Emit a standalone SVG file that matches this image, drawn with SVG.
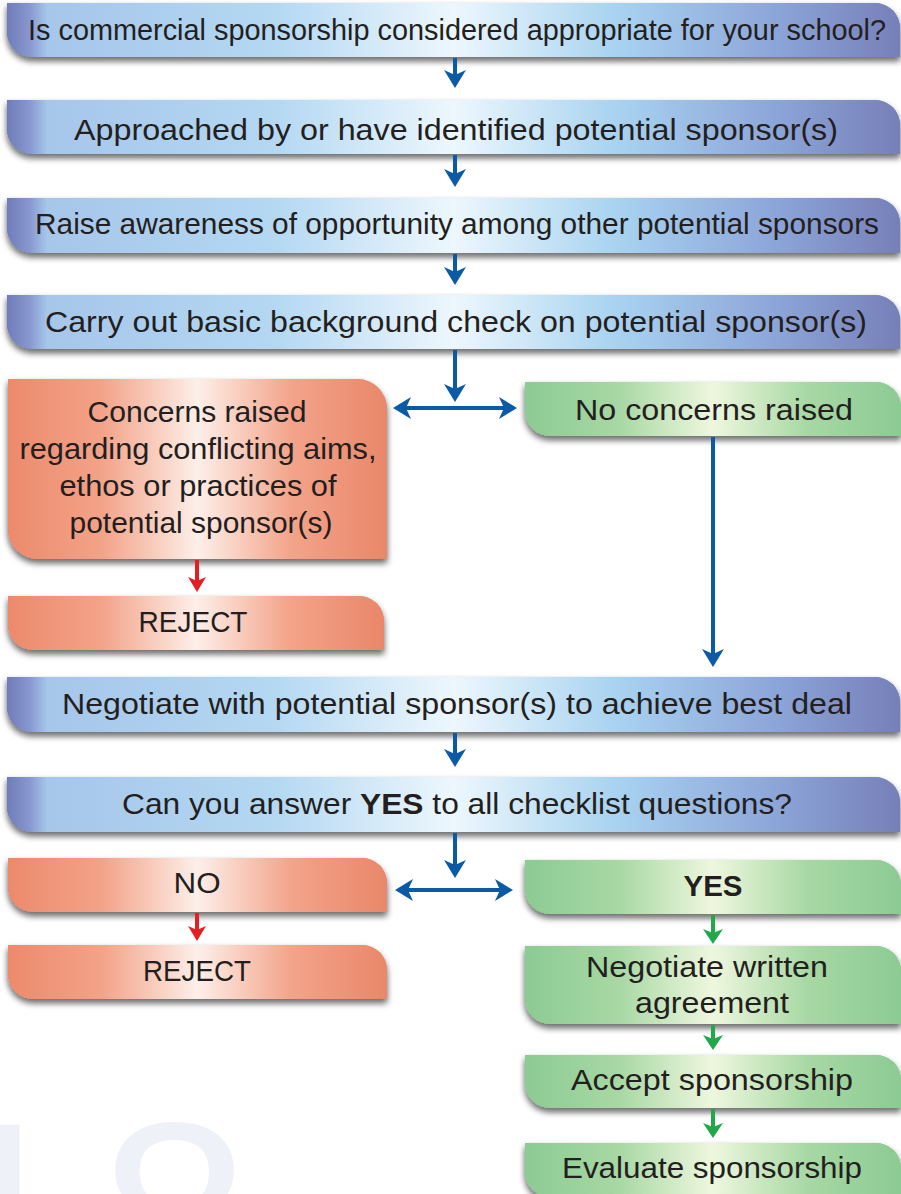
<svg xmlns="http://www.w3.org/2000/svg" xmlns:xlink="http://www.w3.org/1999/xlink" width="901" height="1194" viewBox="0 0 901 1194">
<defs>
<linearGradient id="gBlue" x1="0" y1="0" x2="1" y2="0">
<stop offset="0" stop-color="#6f7cb8"/>
<stop offset="0.025" stop-color="#8797cf"/>
<stop offset="0.045" stop-color="#a6c6ea"/>
<stop offset="0.3" stop-color="#b4d8f2"/>
<stop offset="0.5" stop-color="#edf7fd"/>
<stop offset="0.68" stop-color="#a9d3f0"/>
<stop offset="0.85" stop-color="#8ea8da"/>
<stop offset="1" stop-color="#7680b8"/>
</linearGradient>
<linearGradient id="gOrange" x1="0" y1="0" x2="1" y2="0">
<stop offset="0" stop-color="#ec8a6b"/>
<stop offset="0.25" stop-color="#f3a389"/>
<stop offset="0.5" stop-color="#fdefe9"/>
<stop offset="0.75" stop-color="#f3a389"/>
<stop offset="1" stop-color="#e9876a"/>
</linearGradient>
<linearGradient id="gGreen" x1="0" y1="0" x2="1" y2="0">
<stop offset="0" stop-color="#8ccb93"/>
<stop offset="0.25" stop-color="#a8d8a4"/>
<stop offset="0.5" stop-color="#eef7de"/>
<stop offset="0.75" stop-color="#a8d8a4"/>
<stop offset="1" stop-color="#8ccb93"/>
</linearGradient>
<linearGradient id="gShade" x1="0" y1="0" x2="0" y2="1">
<stop offset="0" stop-color="#ffffff" stop-opacity="0.35"/>
<stop offset="0.12" stop-color="#ffffff" stop-opacity="0"/>
<stop offset="0.85" stop-color="#000000" stop-opacity="0"/>
<stop offset="1" stop-color="#000000" stop-opacity="0.18"/>
</linearGradient>
<filter id="shadow" x="-5%" y="-20%" width="110%" height="160%">
<feDropShadow dx="0" dy="4" stdDeviation="3" flood-color="#000000" flood-opacity="0.35"/>
</filter>
<marker id="hBlue" markerUnits="userSpaceOnUse" markerWidth="20" markerHeight="22" viewBox="0 0 20 22" refX="8" refY="11" orient="auto-start-reverse">
<path d="M0,0 L18,11 L0,22 L5,11 Z" fill="#0b5aa6"/>
</marker>
<marker id="hRed" markerUnits="userSpaceOnUse" markerWidth="16" markerHeight="18" viewBox="0 0 16 18" refX="6" refY="9" orient="auto">
<path d="M0,0 L15,9 L0,18 L4,9 Z" fill="#e31e24"/>
</marker>
<marker id="hGreen" markerUnits="userSpaceOnUse" markerWidth="16" markerHeight="20" viewBox="0 0 16 20" refX="6" refY="10" orient="auto">
<path d="M0,0 L15,10 L0,20 L4,10 Z" fill="#22a84a"/>
</marker>
</defs>
<style>
text{font-family:"Liberation Sans","DejaVu Sans",sans-serif;font-size:30px;fill:#231f20;text-anchor:middle}
.blue{fill:url(#gBlue);filter:url(#shadow)}
.orange{fill:url(#gOrange);filter:url(#shadow)}
.green{fill:url(#gGreen);filter:url(#shadow)}
.shade{fill:url(#gShade)}
.cb{stroke:#0b5aa6;stroke-width:4;fill:none}
.cr{stroke:#e31e24;stroke-width:4;fill:none}
.cg{stroke:#22a84a;stroke-width:4;fill:none}
.wm{font-size:272px;fill:#eef1f8;text-anchor:start}
</style>
<rect width="901" height="1194" fill="#ffffff"/>
<text class="wm" x="-73 99" y="1312">18</text>

<g id="n1"><path id="p1" class="blue" d="M7,3 H875 A25,25 0 0 1 900,28 V57 H32 A25,25 0 0 1 7,32 Z"/><use href="#p1" class="shade"/>
<text x="457" y="40" textLength="858" lengthAdjust="spacingAndGlyphs">Is commercial sponsorship considered appropriate for your school?</text></g>
<g id="n2"><path id="p2" class="blue" d="M7,100 H875 A25,25 0 0 1 900,125 V154 H32 A25,25 0 0 1 7,129 Z"/><use href="#p2" class="shade"/>
<text x="456" y="140" textLength="764" lengthAdjust="spacingAndGlyphs">Approached by or have identified potential sponsor(s)</text></g>
<g id="n3"><path id="p3" class="blue" d="M7,198 H875 A25,25 0 0 1 900,223 V253 H32 A25,25 0 0 1 7,228 Z"/><use href="#p3" class="shade"/>
<text x="457" y="234" textLength="844" lengthAdjust="spacingAndGlyphs">Raise awareness of opportunity among other potential sponsors</text></g>
<g id="n4"><path id="p4" class="blue" d="M7,295 H875 A25,25 0 0 1 900,320 V349 H32 A25,25 0 0 1 7,324 Z"/><use href="#p4" class="shade"/>
<text x="456" y="332" textLength="822" lengthAdjust="spacingAndGlyphs">Carry out basic background check on potential sponsor(s)</text></g>
<g id="n5"><path id="p5" class="orange" d="M8,379 H357 A30,30 0 0 1 387,409 V559 H38 A30,30 0 0 1 8,529 Z"/><use href="#p5" class="shade"/>
<text x="197" y="422" textLength="219" lengthAdjust="spacingAndGlyphs">Concerns raised</text>
<text x="198" y="459" textLength="357" lengthAdjust="spacingAndGlyphs">regarding conflicting aims,</text>
<text x="198" y="496" textLength="277" lengthAdjust="spacingAndGlyphs">ethos or practices of</text>
<text x="201" y="533" textLength="263" lengthAdjust="spacingAndGlyphs">potential sponsor(s)</text></g>
<g id="n6"><path id="p6" class="green" d="M525,382 H876 A25,25 0 0 1 901,407 V436 H550 A25,25 0 0 1 525,411 Z"/><use href="#p6" class="shade"/>
<text x="714" y="420" textLength="278" lengthAdjust="spacingAndGlyphs">No concerns raised</text></g>
<g id="n7"><path id="p7" class="orange" d="M8,596 H359 A25,25 0 0 1 384,621 V650 H33 A25,25 0 0 1 8,625 Z"/><use href="#p7" class="shade"/>
<text x="193" y="632" textLength="109" lengthAdjust="spacingAndGlyphs">REJECT</text></g>
<g id="n8"><path id="p8" class="blue" d="M7,677 H875 A25,25 0 0 1 900,702 V732 H32 A25,25 0 0 1 7,707 Z"/><use href="#p8" class="shade"/>
<text x="457" y="714" textLength="790" lengthAdjust="spacingAndGlyphs">Negotiate with potential sponsor(s) to achieve best deal</text></g>
<g id="n9"><path id="p9" class="blue" d="M7,777 H875 A25,25 0 0 1 900,802 V832 H32 A25,25 0 0 1 7,807 Z"/><use href="#p9" class="shade"/>
<text x="457" y="814" textLength="670" lengthAdjust="spacingAndGlyphs">Can you answer <tspan font-weight="bold">YES</tspan> to all checklist questions?</text></g>
<g id="n10"><path id="p10" class="orange" d="M8,858 H362 A25,25 0 0 1 387,883 V912 H33 A25,25 0 0 1 8,887 Z"/><use href="#p10" class="shade"/>
<text x="197" y="893" textLength="47" lengthAdjust="spacingAndGlyphs">NO</text></g>
<g id="n11"><path id="p11" class="orange" d="M8,945 H362 A25,25 0 0 1 387,970 V999 H33 A25,25 0 0 1 8,974 Z"/><use href="#p11" class="shade"/>
<text x="197" y="981" textLength="108" lengthAdjust="spacingAndGlyphs">REJECT</text></g>
<g id="n12"><path id="p12" class="green" d="M525,860 H876 A25,25 0 0 1 901,885 V914 H550 A25,25 0 0 1 525,889 Z"/><use href="#p12" class="shade"/>
<text x="713" y="896" font-weight="bold" textLength="59" lengthAdjust="spacingAndGlyphs">YES</text></g>
<g id="n13"><path id="p13" class="green" d="M525,946 H876 A25,25 0 0 1 901,971 V1024 H550 A25,25 0 0 1 525,999 Z"/><use href="#p13" class="shade"/>
<text x="707" y="977" textLength="242" lengthAdjust="spacingAndGlyphs">Negotiate written</text>
<text x="712" y="1013" textLength="154" lengthAdjust="spacingAndGlyphs">agreement</text></g>
<g id="n14"><path id="p14" class="green" d="M525,1055 H876 A25,25 0 0 1 901,1080 V1108 H550 A25,25 0 0 1 525,1083 Z"/><use href="#p14" class="shade"/>
<text x="712" y="1090" textLength="282" lengthAdjust="spacingAndGlyphs">Accept sponsorship</text></g>
<g id="n15"><path id="p15" class="green" d="M525,1143 H876 A25,25 0 0 1 901,1168 V1197 H550 A25,25 0 0 1 525,1172 Z"/><use href="#p15" class="shade"/>
<text x="712" y="1178" textLength="300" lengthAdjust="spacingAndGlyphs">Evaluate sponsorship</text></g>

<g id="connectors">
<line class="cb" x1="455" y1="58" x2="455" y2="78" marker-end="url(#hBlue)"/>
<line class="cb" x1="455" y1="155" x2="455" y2="177" marker-end="url(#hBlue)"/>
<line class="cb" x1="455" y1="254" x2="455" y2="275" marker-end="url(#hBlue)"/>
<line class="cb" x1="455" y1="350" x2="455" y2="392" marker-end="url(#hBlue)"/>
<line class="cb" x1="403" y1="408" x2="507" y2="408" marker-start="url(#hBlue)" marker-end="url(#hBlue)"/>
<line class="cb" x1="713" y1="437" x2="713" y2="657" marker-end="url(#hBlue)"/>
<line class="cr" x1="197" y1="560" x2="197" y2="583" marker-end="url(#hRed)"/>
<line class="cb" x1="455" y1="733" x2="455" y2="757" marker-end="url(#hBlue)"/>
<line class="cb" x1="455" y1="833" x2="455" y2="868" marker-end="url(#hBlue)"/>
<line class="cb" x1="405" y1="890" x2="503" y2="890" marker-start="url(#hBlue)" marker-end="url(#hBlue)"/>
<line class="cr" x1="197" y1="913" x2="197" y2="932" marker-end="url(#hRed)"/>
<line class="cg" x1="713" y1="915" x2="713" y2="935" marker-end="url(#hGreen)"/>
<line class="cg" x1="713" y1="1025" x2="713" y2="1041" marker-end="url(#hGreen)"/>
<line class="cg" x1="713" y1="1109" x2="713" y2="1129" marker-end="url(#hGreen)"/>
</g>
</svg>
